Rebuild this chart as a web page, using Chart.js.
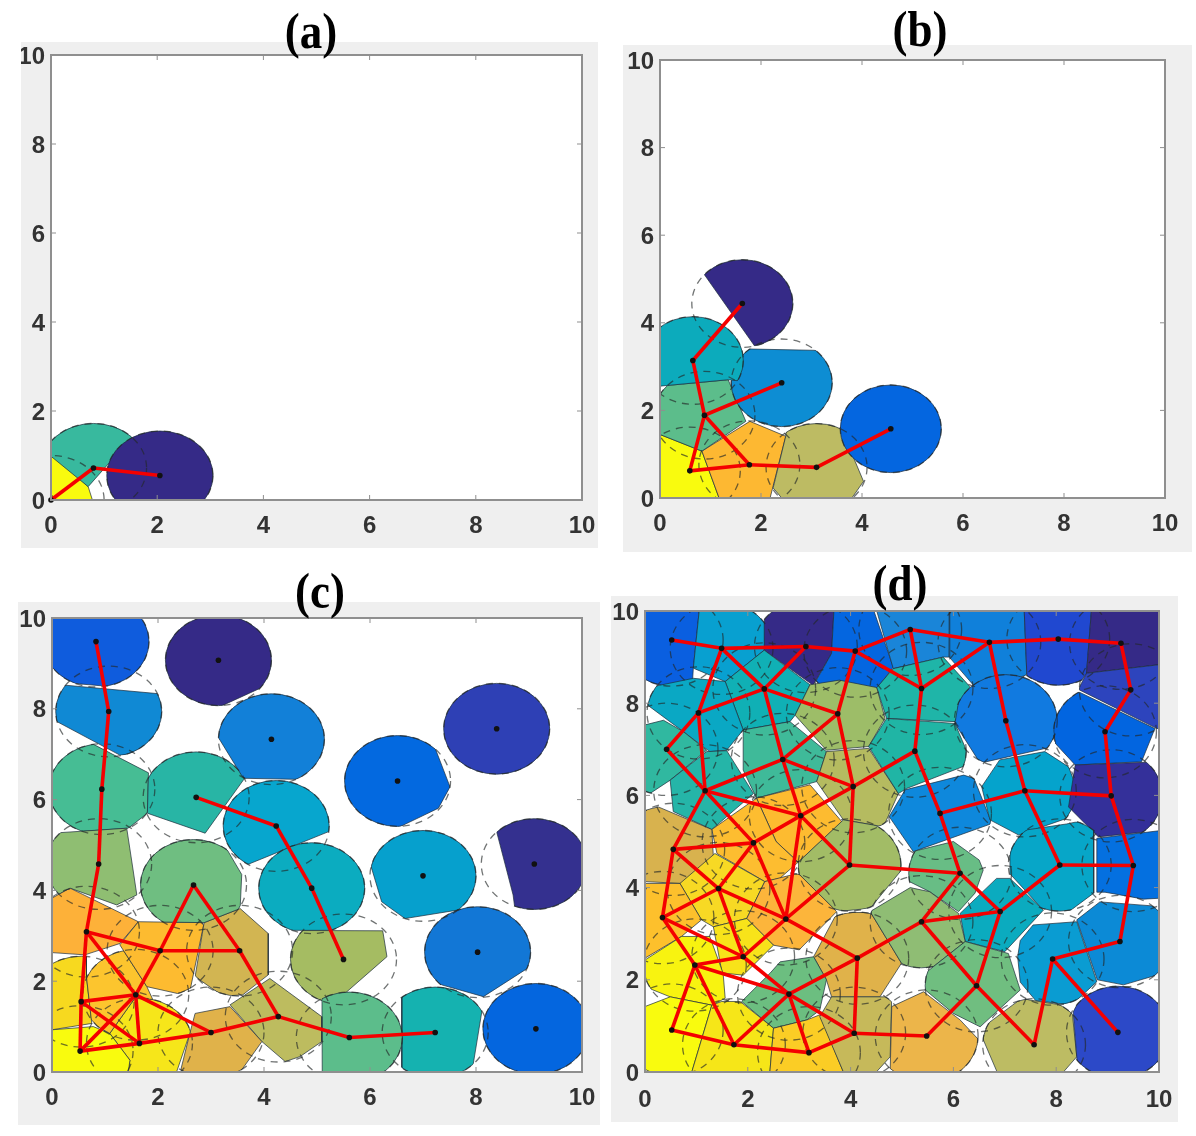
<!DOCTYPE html>
<html>
<head>
<meta charset="utf-8">
<script src="https://cdn.jsdelivr.net/npm/chart.js@4/dist/chart.umd.js"></script>
<style>
  html, body { margin: 0; background: #fff; overflow: hidden; }
  canvas { position: absolute; background: #efefef; filter: blur(0.5px); }
  .ttl { position: absolute; width: 120px; margin-left: -60px; text-align: center; color: #000;
         font: bold 45px "Liberation Serif", serif; line-height: 50px; z-index: 5;
         transform: scaleY(1.12); filter: blur(0.4px); }
</style>
</head>
<body>
<canvas id="a" width="577" height="506" style="left:21px;top:42px"></canvas>
<canvas id="b" width="569" height="507" style="left:623px;top:45px"></canvas>
<canvas id="c" width="582" height="523" style="left:18px;top:602px"></canvas>
<canvas id="d" width="567" height="526" style="left:611px;top:596px"></canvas>
<div class="ttl" style="left:311px;top:6px">(a)</div>
<div class="ttl" style="left:920px;top:4px">(b)</div>
<div class="ttl" style="left:320px;top:566px">(c)</div>
<div class="ttl" style="left:900px;top:558px">(d)</div>
<script>
const tickValues = [0, 2, 4, 6, 8, 10];
const sensingRadius = 1;

// panel a
const aX = [0, 0.8, 2.05];
const aY = [0, 0.72, 0.55];
const aEdges = [[0,1],[1,2]];
const aCells = [
  [0,0, 0,1.1, 0.7,0.3, 0.78,0],
  [-0.5,1.47, 0.7,0.3, 1.53,1.42, 2,2.06, -0.5,3],
  [0,-1, 4,-1, 4,2, 0,2]
];
const aColors = ['#f9fb0e','#38b99e','#352a87'];

// panel b
const bX = [0.59, 1.77, 3.1, 4.57, 0.88, 2.41, 0.65, 1.63];
const bY = [0.62, 0.76, 0.7, 1.58, 1.89, 2.63, 3.14, 4.44];
const bEdges = [[7,6],[6,4],[4,5],[4,0],[4,1],[0,1],[1,2],[2,3]];
const bCells = [
  [0,1.45, 0.83,1.07, 1.17,0, 1.17,-0.5, 0,-0.5],
  [0.83,1.07, 1.78,1.75, 2.49,1.41, 2.18,0, 2.18,-0.5, 1.17,-0.5, 1.17,0],
  [2.49,1.41, 2.6,3, 3.5,3, 3.6,1.56, 4.03,0.38, 3.8,0, 2.41,0, 2.24,0.23],
  [3,0, 6,0, 6,3, 3,3],
  [-0.5,2.5, 1.35,2.7, 1.7,1.75, 0.83,1.07, 0,1.45, -0.5,1.6],
  [1,3.42, 4,3.35, 4,1, 1,1],
  [-0.5,5, 2.2,5, 2.2,2.6, 1.35,2.7, -0.5,2.5],
  [0.5,5.72, 3,5.72, 3,3.46, 1.88,3.46]
];
const bColors = ['#f9fb0e','#fdb832','#bdbb63','#0466e0','#5cbd8b','#0d8dd3','#0cabbc','#352a87'];

// panel c
const cX = [0.83,1.07,0.94,0.88,2.72,4.23,3.14,4.14,6.52,8.39,9.1,7,4.9,5.5,8.03,9.13,7.23,5.61,4.27,3,1.65,0.53,0.55,1.58,0.65,2.04,3.54,2.67];
const cY = [9.48,7.94,6.23,4.58,6.05,5.42,9.07,7.33,6.41,7.56,4.58,4.32,4.05,2.48,2.64,0.95,0.87,0.76,1.22,0.87,0.63,0.46,1.55,1.7,3.09,2.67,2.67,4.12];
const cEdges = [[0,1],[1,2],[2,3],[3,24],[24,22],[22,21],[24,25],[25,26],[26,18],[26,27],[27,25],[25,23],[24,23],[22,23],[21,23],[22,20],[23,20],[21,20],[20,19],[23,19],[19,18],[18,17],[17,16],[4,5],[5,12],[12,13]];
const cCells = [
  [-1,8.7, 3,8.3, 3,11, -1,11],
  [-0.5,8.6, 2.5,8.28, 2.5,6.98, 1.28,6.98, 0.09,7.72, -0.5,8.09],
  [-1,8.3, 0.81,7.2, 1.82,6.59, 1.8,5.7, 1.44,5.37, 0.06,5.26, -1,5.2],
  [0,5.26, 1.41,5.37, 1.53,4.45, 1.6,3.9, 1.22,3.68, 0.34,4.05, 0,3.83],
  [1.82,6.58, 1.8,5.7, 2.89,5.26, 3.61,6.43, 4,6.9, 4,8, 1.6,8],
  [3.67,4.56, 5.21,5.29, 6,5.67, 6,7, 3,7, 3,4.2],
  [2,7.4, 3.23,8.08, 3.96,8.47, 5,9.03, 5,11, 2,11],
  [3.17,7.31, 3.61,6.47, 4.85,6.44, 6,6.44, 6,9, 3,9, 3,7.6],
  [7.23,7.13, 7.51,6.28, 7.29,5.81, 6.56,5.4, 5,5, 5,8, 7,8],
  [7,6, 10,6, 10,9, 7,9],
  [8.2,6.1, 8.39,5.29, 8.7,3.9, 8.8,3, 11,3, 11,6.1],
  [5.9,5.5, 6.03,4.49, 6.22,3.75, 6.66,3.38, 7.67,3.57, 9,3.8, 9,5.5],
  [3,3.12, 7,3.12, 7,6, 3,6],
  [4,3.12, 6.24,3.11, 6.32,2.54, 5.31,1.51, 4.5,1.5, 4,2],
  [6.5,1.7, 7.35,1.92, 8.14,1.66, 9.02,2.32, 10,3, 10,4.5, 6.5,4.5],
  [8,-1, 11,-1, 11,3, 8,3],
  [6.6,3, 6.6,-0.5, 7.9,-0.5, 7.95,0.19, 8.11,1.33, 8.3,3],
  [5.1,-0.5, 7,-0.5, 7,3, 5.09,3],
  [3.36,1.48, 4.11,2.06, 5.09,1.22, 5.09,0.67, 4.68,0.34, 4.4,0.23, 3.96,0.67],
  [2.7,1.29, 3.36,1.44, 3.96,0.67, 3.55,0, 2.42,0, 2.6,0.85],
  [1.09,0.85, 1.56,1.62, 1.7,2.5, 3,2.5, 2.6,0.85, 2.35,0, 1.44,0, 1.47,0.26],
  [0,0.93, 0.78,1, 1.09,0.85, 1.47,0.26, 1.44,0, 0,0],
  [-0.5,3, 0.65,3, 0.65,2.1, 0.75,1.07, 0,0.93, -0.5,0.9],
  [0.65,2.1, 0.75,1.07, 1.09,0.85, 1.56,1.62, 1.9,1.6, 1.79,1.88, 1.28,2.8, 0.9,3],
  [0,3.83, 0.34,4.05, 1.63,3.31, 1.28,2.83, 0.62,2.58, 0,2.63],
  [1.63,3.31, 2.87,3.29, 2.6,1.77, 2.48,1.7, 1.79,1.88, 1.28,2.8],
  [2.87,3.29, 3.55,3.6, 4.08,3.05, 4.08,2.14, 3.6,1.7, 3.23,1.67, 2.7,2.1],
  [1,6, 3,5.5, 3.58,4.35, 3.55,3.6, 2.87,3.29, 1.63,3.31, 1,3.3]
];
const cColors = ['#0f5cdd','#1089d4','#46bd94','#8fbe72','#28b5a5','#07a6ce','#352a87','#1280d8','#0369e0','#2e40b5','#34308f','#06a0cd','#0bacc0','#a5bc62','#1277d6','#0466df','#15b2b0','#5cbd8b','#bdbc5f','#e0b24a','#f6e61a','#f9fb0e','#f7d91f','#fcc52e','#fdb139','#fdbb30','#d2b552','#6fbe81'];

// panel d
const dX = [0.52,1.49,3.13,4.09,2.32,1.04,3.75,0.42,2.68,1.17,4.05,3.03,2.11,0.55,
  5.16,6.7,8.04,9.26,9.45,5.38,7.02,8.95,5.25,5.74,7.39,9.07,
  3.98,1.43,2.74,0.34,1.91,0.97,4.13,2.8,0.52,1.73,3.19,4.07,
  6.13,8.07,9.5,6.91,5.38,9.24,7.93,6.45,5.48,7.57,9.2];
const dY = [9.37,9.19,9.23,9.13,8.31,7.79,7.77,7,6.78,6.1,6.19,5.56,4.97,4.83,
  9.6,9.32,9.39,9.3,8.29,8.32,7.62,7.38,6.96,5.61,6.1,5.99,
  4.49,3.98,3.32,3.35,2.5,2.32,2.47,1.69,0.91,0.59,0.42,0.84,
  4.31,4.49,4.48,3.48,3.26,2.83,2.45,1.87,0.78,0.59,0.86];
const dEdges = [[0,1],[1,2],[2,3],[1,4],[2,4],[1,5],[4,5],[4,6],[4,8],[5,7],[5,9],[7,9],[8,9],[6,8],[3,6],[6,10],[8,10],[8,11],[9,11],[10,11],[9,12],[9,13],[12,13],[11,12],
  [3,14],[3,19],[14,15],[14,19],[15,19],[15,16],[16,17],[17,18],[18,21],[21,25],[19,22],[22,10],[15,20],[20,24],[22,23],[23,24],[24,25],
  [24,39],[25,40],[23,38],[10,26],[11,26],[11,28],[12,28],[12,27],[13,27],[13,29],[27,29],[27,28],[26,28],[27,30],[28,30],[29,30],[29,31],[30,31],[30,33],[31,33],[31,34],[31,35],[34,35],[33,35],[33,36],[35,36],[36,37],[33,37],[28,32],[32,33],[32,37],[32,42],[26,38],[37,46],
  [38,42],[38,41],[41,42],[41,39],[39,40],[40,43],[43,44],[44,47],[44,48],[41,45],[42,45],[45,47],[45,46]];
const dCells = [
  [0,10.5, 1.1,10.5, 0.94,8.76, 0.9,8, 0,8],
  [1.1,10.5, 2.4,10.5, 2.32,9.15, 1.56,8.47, 0.94,8.76],
  [2.32,10.5, 3.7,10.5, 3.63,9.08, 3.27,8.39, 2.32,9.15],
  [3.7,10.5, 4.3,10.5, 4.83,8.78, 4.5,8.3, 3.27,8.37, 3.63,9.08],
  [1.56,8.47, 2.32,9.15, 3.21,8.4, 2.92,7.74, 2.82,7.6, 1.91,7.42],
  [0,8.07, 0.16,8.36, 0.94,8.54, 1.56,8.47, 1.91,7.42, 1.59,6.98, 1.26,6.95, 0.75,7.38, 0,8],
  [3.21,8.4, 3.78,8.5, 4.51,8.34, 4.67,7.67, 4.35,7.06, 3.53,6.98, 2.92,7.74],
  [0,7.53, 0.36,7.63, 0.75,7.38, 1.2,6.98, 0.49,6.33, 0,5.97],
  [1.91,7.42, 2.82,7.6, 3.53,6.95, 3.34,6.3, 2.17,5.94, 1.91,6.55],
  [0.49,6.33, 1.2,6.95, 1.59,6.97, 2.11,6.04, 1.3,5.26, 0.55,5.65],
  [3.53,6.95, 4.35,7.02, 4.93,6.04, 4.64,5.32, 3.86,5.47, 3.34,6.3],
  [2.17,5.94, 3.21,6.23, 3.83,5.43, 2.98,4.55, 2.55,5],
  [2.17,5.94, 2.55,5, 2.98,4.55, 2.62,4.2, 2.33,4.13, 1.4,4.74, 1.3,5.26],
  [0,5.68, 0.26,5.75, 1.3,5.26, 1.33,4.67, 0.71,4.09, 0,4.13],
  [4.38,10.5, 5.93,10.5, 5.92,9, 5.8,9, 4.83,8.75],
  [5.93,10.5, 7.36,10.5, 7.43,8.6, 6.39,8.39, 5.92,9],
  [7.36,10.5, 8.72,10.5, 8.59,8.65, 8.2,8, 7.6,8, 7.43,8.6],
  [8.72,10.5, 10.5,10.5, 10.5,8.9, 8.59,8.65],
  [8.59,8.65, 10.5,8.9, 10.5,7.15, 8.43,8.3],
  [4.83,8.75, 5.8,9, 6.32,8.36, 6.03,7.6, 4.7,7.67, 4.51,8.34],
  [6.03,7.56, 6.2,8.7, 8.1,8.7, 8.1,7, 7.95,7.06, 6.52,6.7],
  [8.43,8.25, 9.92,7.45, 9.66,6.73, 8.37,6.66, 7.98,7.13, 7.9,7.85],
  [4.7,7.67, 6.03,7.56, 6.36,6.7, 5.09,6.15, 4.93,6.04, 4.35,7.06],
  [5.06,6.12, 6.2,6.44, 6.4,6.37, 6.75,5.39, 5.22,4.78, 4.75,5.54],
  [6.55,6.19, 6.9,6.77, 7.78,6.95, 8.24,6.62, 8.35,6.3, 8.35,5.8, 8.2,5.5, 7.27,5.14, 6.71,5.47],
  [8.37,6.66, 10.5,6.75, 10.5,5.3, 8.82,5.1, 8.24,5.75],
  [3.86,5.47, 4.64,5.32, 5.1,5, 4.99,4.38, 4.38,3.55, 3.73,3.48, 2.98,4.31, 2.98,4.55],
  [1.36,4.74, 2.33,4.13, 1.98,3.33, 1.33,3.15, 1.1,3.3, 0.68,4.09],
  [2.33,4.13, 2.98,4.31, 3.73,3.48, 3,2.65, 2.5,2.75, 1.98,3.33],
  [0,4.09, 0.68,4.09, 1.1,3.3, 0.71,2.94, 0,2.47],
  [1.33,3.15, 1.98,3.33, 2.5,2.75, 1.91,2.1, 1.5,2.15],
  [0,2.43, 0.71,2.94, 1.26,2.94, 1.52,2.14, 1.56,1.6, 1.3,1.45, 0.49,1.63, 0,1.85],
  [3.28,2.5, 3.73,3.44, 4.38,3.48, 4.99,2.36, 4.57,1.63, 3.63,1.63, 3.53,2],
  [1.88,1.53, 2.43,2.14, 2.63,2.39, 3.28,2.5, 3.53,2, 3.4,1.34, 3.15,1.13, 2.5,0.95],
  [0,1.42, 0.49,1.63, 1.3,1.45, 0.91,0, 0,0],
  [1.3,1.45, 1.49,1.53, 1.85,1.53, 2.5,0.95, 2.43,0, 0.91,0],
  [2.5,0.95, 3.15,1.13, 3.4,1.24, 3.86,0, 2.43,0],
  [3.63,1.63, 4.8,1.63, 4.77,0.33, 4.5,0, 3.86,0, 3.4,1.2],
  [5.06,4.74, 6,5, 6.5,4.6, 6.58,4.38, 6.42,3.88, 6.1,3.48, 5.54,3.91, 5.09,4.16],
  [7.1,4.3, 7.1,5.2, 7.6,5.28, 8.2,5.38, 8.73,5.5, 8.73,3.88, 8.2,3.44, 7.75,3.51],
  [8.79,5.07, 10.5,5.3, 10.5,3.8, 9.7,3.75, 8.95,3.9, 8.79,3.9],
  [6.13,3.44, 6.84,4.2, 7.1,4.2, 7.75,3.51, 7,2.61, 6.23,2.83],
  [4.38,3.48, 5.16,4, 5.54,3.91, 6.1,3.44, 6.23,2.83, 5.4,2.1, 4.99,2.36],
  [8.4,3.3, 8.85,3.69, 10.5,3.55, 10.5,2.28, 9.31,1.89, 8.8,2],
  [7.55,3.19, 8.4,3.26, 8.79,1.96, 8.3,1.45, 7.6,1.55, 7.3,1.95, 7.25,2.5, 7.3,2.85],
  [6.23,2.83, 7.07,2.57, 7.3,1.78, 6.52,0.98, 6,1.27, 5.42,1.81, 5.4,2.1],
  [4.8,1.42, 5.42,1.74, 6.13,1.13, 6.5,0.69, 6.39,0.19, 6.16,0, 4.77,0],
  [6.5,0.91, 7.33,1.6, 7.49,1.56, 8.3,1.42, 8.4,0.33, 8.14,0, 6.85,0],
  [8.33,1.3, 8.6,1.9, 10.5,1.9, 10.5,-0.5, 8.45,-0.5, 8.4,0.33]
];
const dColors = ['#0a5fe0','#08a0d0','#352a87','#0466e0','#10b0b5','#0aa8c4','#9dbd68','#30b8a0','#3fba99','#25b5a8','#b5bb60','#fdbb30','#fdbd30','#d8b24e',
  '#1a85d8','#1080da','#2048d0','#352a87','#2d44bd','#1fb5a8','#117ae0','#0265e0','#20b5a5','#0e88dc','#05a3cc','#34309a',
  '#a2bc66','#f7d924','#fcb53b','#fdc02c','#f8e31a','#f8f310','#e0b24a','#6cbe80','#f9fb0e','#f6e618','#fbcd25','#c6b95a',
  '#68bd85','#07a6c8','#0470e0','#0babbf','#8fbd74','#0c8ad6','#0a9cd2','#70be80','#ecb54a','#bdbc63','#2c49c8'];

function diskPath(chart, cx, cy) {
  const sx = chart.scales.x, sy = chart.scales.y;
  const rx = Math.abs(sx.getPixelForValue(sensingRadius) - sx.getPixelForValue(0));
  const ry = Math.abs(sy.getPixelForValue(sensingRadius) - sy.getPixelForValue(0));
  chart.ctx.beginPath();
  chart.ctx.ellipse(sx.getPixelForValue(cx), sy.getPixelForValue(cy), rx, ry, 0, 0, Math.PI * 2);
}

function areaClip(chart) {
  const a = chart.chartArea;
  chart.ctx.beginPath();
  chart.ctx.rect(a.left, a.top, a.width, a.height);
  chart.ctx.clip();
}

function polyPath(ctx, meta) {
  ctx.beginPath();
  meta.data.forEach((p, i) => i ? ctx.lineTo(p.x, p.y) : ctx.moveTo(p.x, p.y));
  ctx.closePath();
}

// cell = polygon from the dataset cut by the node's disk
const cellPlugin = {
  id: 'cells',
  beforeDatasetsDraw(chart) {
    const a = chart.chartArea;
    chart.ctx.fillStyle = '#fff';
    chart.ctx.fillRect(a.left, a.top, a.width, a.height);
  },
  beforeDatasetDraw(chart, args) {
    const ds = chart.data.datasets[args.index];
    if (!ds.cell) return;
    const ctx = chart.ctx;
    ctx.save();
    areaClip(chart);
    diskPath(chart, ds.cell.x, ds.cell.y);
    ctx.clip();
    polyPath(ctx, args.meta);
    ctx.fillStyle = ds.cell.color;
    ctx.fill();
  },
  afterDatasetDraw(chart, args) {
    const ds = chart.data.datasets[args.index];
    if (!ds.cell) return;
    const ctx = chart.ctx;
    ctx.restore();
    ctx.save();
    areaClip(chart);
    polyPath(ctx, args.meta);
    ctx.clip();
    diskPath(chart, ds.cell.x, ds.cell.y);
    ctx.strokeStyle = 'rgba(30,45,60,0.7)';
    ctx.lineWidth = 1;
    ctx.stroke();
    ctx.restore();
    if (ds.cell.last) {
      ctx.save();
      areaClip(chart);
      ctx.setLineDash([7, 6]);
      ctx.strokeStyle = 'rgba(35,40,40,0.65)';
      ctx.lineWidth = 1.3;
      ds.cell.nodes.forEach(n => { diskPath(chart, n.x, n.y); ctx.stroke(); });
      ctx.restore();
    }
  },
  afterDraw(chart) {
    const ctx = chart.ctx, a = chart.chartArea, sx = chart.scales.x, sy = chart.scales.y;
    ctx.save();
    ctx.strokeStyle = '#8f8f8f';
    ctx.lineWidth = 2;
    ctx.strokeRect(a.left, a.top, a.width, a.height);
    ctx.lineWidth = 1;
    ctx.beginPath();
    tickValues.forEach(v => {
      const px = sx.getPixelForValue(v), py = sy.getPixelForValue(v);
      ctx.moveTo(px, a.bottom); ctx.lineTo(px, a.bottom - 5);
      ctx.moveTo(px, a.top); ctx.lineTo(px, a.top + 5);
      ctx.moveTo(a.left, py); ctx.lineTo(a.left + 5, py);
      ctx.moveTo(a.right, py); ctx.lineTo(a.right - 5, py);
    });
    ctx.stroke();
    ctx.restore();
  }
};

function axis(fitSide, fitSize, padding, offset) {
  return {
    type: 'linear', min: 0, max: 10,
    afterBuildTicks: s => { s.ticks = tickValues.map(v => ({ value: v })); },
    afterFit: s => {
      s[fitSide] = fitSize;
      s.paddingLeft = s.paddingRight = s.paddingTop = s.paddingBottom = 0;
    },
    grid: { display: false, drawTicks: false },
    border: { display: false },
    ticks: {
      autoSkip: false, maxRotation: 0, padding: padding, labelOffset: offset, color: '#333',
      font: { family: '"Liberation Sans", sans-serif', weight: 'bold', size: 24 }
    }
  };
}

function drawPanel(id, xs, ys, edges, cells, colors, pad) {
  const nodes = xs.map((x, i) => ({ x: x, y: ys[i] }));
  const sets = [];
  cells.forEach((flat, i) => {
    const pts = [];
    for (let k = 0; k < flat.length; k += 2) pts.push({ x: flat[k], y: flat[k + 1] });
    pts.push(pts[0]);
    sets.push({
      data: pts, showLine: true, fill: false, pointRadius: 0, borderWidth: 1,
      borderColor: 'rgba(30,45,60,0.7)',
      cell: { x: xs[i], y: ys[i], color: colors[i], last: i === cells.length - 1, nodes: nodes }
    });
  });
  edges.forEach(e => {
    sets.push({ data: [nodes[e[0]], nodes[e[1]]], showLine: true, fill: false, pointRadius: 0, borderColor: '#f40000', borderWidth: 3.6, clip: false });
  });
  sets.push({ data: nodes, showLine: false, pointRadius: 2.8, pointBackgroundColor: '#111', pointBorderWidth: 0, clip: false });
  // the library draws the first dataset last
  sets.reverse();

  new Chart(document.getElementById(id), {
    type: 'scatter',
    data: { datasets: sets },
    options: {
      responsive: false,
      animation: false,
      layout: { padding: { top: pad.top, right: pad.right, left: 0, bottom: 0 } },
      plugins: { legend: { display: false }, tooltip: { enabled: false } },
      scales: { x: axis('height', pad.bottom, pad.label, 0), y: axis('width', pad.left, 6, 2) }
    },
    plugins: [cellPlugin]
  });
}

drawPanel('a', aX, aY, aEdges, aCells, aColors, { left: 30, top: 13, right: 16, bottom: 48, label: 12 });
drawPanel('b', bX, bY, bEdges, bCells, bColors, { left: 37, top: 15, right: 27, bottom: 54, label: 12 });
drawPanel('c', cX, cY, cEdges, cCells, cColors, { left: 34, top: 16, right: 18, bottom: 53, label: 12 });
drawPanel('d', dX, dY, dEdges, dCells, dColors, { left: 34, top: 15, right: 19, bottom: 50, label: 14 });
</script>
</body>
</html>
